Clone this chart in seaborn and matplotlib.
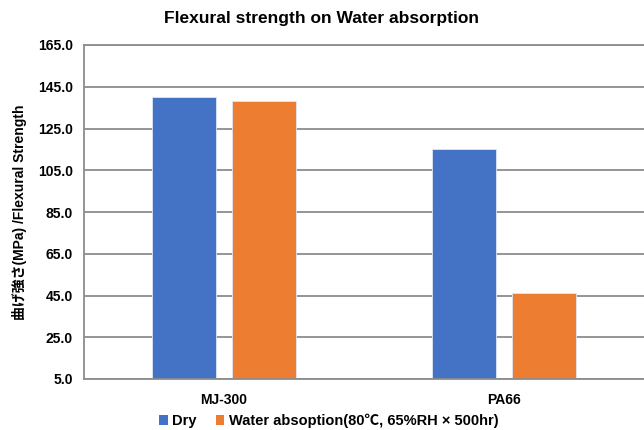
import matplotlib
matplotlib.use('Agg')
import matplotlib.pyplot as plt
from matplotlib.patches import Patch
import seaborn as sns
import pandas as pd

# Data
materials  = ['MJ-300', 'PA66']
conditions = ['Dry', 'Water absoption(80℃, 65%RH × 500hr)']
dry_vals   = [140.0, 115.0]
wet_vals   = [138.0, 46.0]
y_ticks    = [5.0, 25.0, 45.0, 65.0, 85.0, 105.0, 125.0, 145.0, 165.0]
COLORS     = ['#4472C4', '#ED7D31']

df = pd.DataFrame({
    'material':  materials * 2,
    'condition': [conditions[0]] * 2 + [conditions[1]] * 2,
    'value':     dry_vals + wet_vals,
})

sns.set_style('white')
plt.rcParams['font.family'] = ['Liberation Sans', 'Noto Sans CJK JP', 'DejaVu Sans']
plt.rcParams['font.weight'] = 'bold'
plt.rcParams['text.color'] = 'black'
plt.rcParams['axes.labelcolor'] = 'black'
plt.rcParams['xtick.color'] = 'black'
plt.rcParams['ytick.color'] = 'black'

fig = plt.figure(figsize=(6.44, 4.30), dpi=100)
ax = fig.add_axes([84 / 644, 1 - 379 / 430, 1 - 84 / 644, (379 - 45) / 430])

sns.barplot(data=df, x='material', y='value', hue='condition',
            palette=COLORS, saturation=1, width=0.571, gap=0.2, ax=ax,
            edgecolor='#dde6f5', linewidth=0.6, legend=False)

ax.set_ylim(5, 165)
ax.set_xlim(-0.5, 1.5)
ax.set_yticks(y_ticks)
ax.set_yticklabels([f'{t:.1f}' for t in y_ticks], fontsize=10, fontweight='bold')
ax.set_xticks(range(len(materials)))
ax.set_xticklabels(materials, fontsize=10, fontweight='bold')
ax.tick_params(axis='y', length=0, pad=8)
ax.tick_params(axis='x', length=0, pad=10)
ax.set_xlabel('')
ax.set_ylabel('曲げ強さ(MPa) /Flexural Strength', fontsize=10, fontweight='bold',
              labelpad=8)

# gridlines
ax.yaxis.grid(True, color='#8c8c8c', linewidth=1.3)
ax.set_axisbelow(True)
for side in ['left', 'bottom', 'top']:
    ax.spines[side].set_color('#8c8c8c')
    ax.spines[side].set_linewidth(1.3)
ax.spines['right'].set_visible(False)

fig.suptitle('Flexural strength on Water absorption', x=0.5, y=1 - 11 / 430,
             fontsize=12.5, fontweight='bold')

# legend at the bottom
handles = [Patch(facecolor=c, edgecolor='none') for c in COLORS]
fig.legend(handles, conditions, loc='center left',
           bbox_to_anchor=(146 / 644, 1 - 421 / 430), ncol=2, frameon=False,
           handlelength=0.6, handleheight=0.6, handletextpad=0.3,
           columnspacing=1.3, prop={'weight': 'bold', 'size': 10.5})

fig.savefig('out.png', dpi=100)
